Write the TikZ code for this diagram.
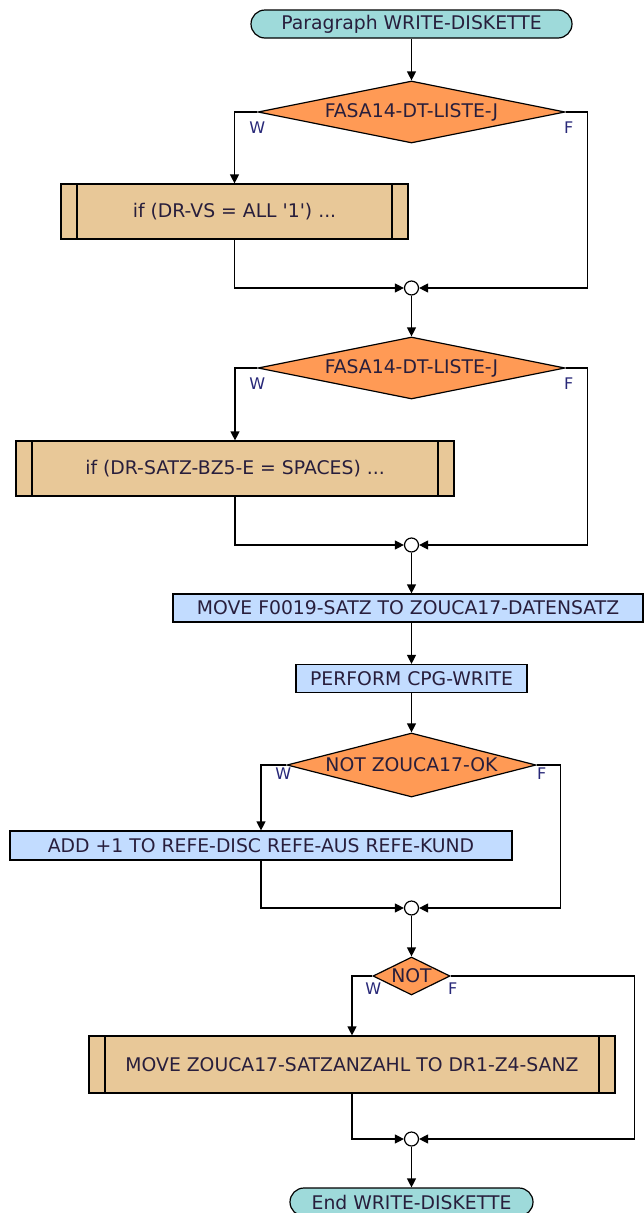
\documentclass[tikz,border=0pt]{standalone}
\usepackage{fontspec}
\setmainfont{DejaVu Sans}
\usetikzlibrary{shapes.geometric,arrows.meta}
\definecolor{termfill}{RGB}{158,218,218}
\definecolor{testfill}{RGB}{255,154,85}
\definecolor{subfill}{RGB}{232,200,152}
\definecolor{actfill}{RGB}{194,220,255}
\definecolor{textc}{RGB}{40,30,60}
\definecolor{labc}{RGB}{40,40,120}

\begin{document}
\begin{tikzpicture}[x=1pt,y=-1pt,font=\fontsize{18.8}{22}\selectfont,text=textc,line width=1.2pt]
		\tikzstyle{term}=[draw,fill=termfill,rounded corners=14pt,minimum height=28pt,inner sep=0pt]
		\tikzstyle{test}=[diamond,draw,fill=testfill,inner sep=0pt]
		\tikzstyle{sub}=[draw,fill=subfill,minimum height=55pt,inner sep=0pt,
			path picture={\draw ([xshift=16pt]path picture bounding box.north west) -- ([xshift=16pt]path picture bounding box.south west);
				\draw ([xshift=-16pt]path picture bounding box.north east) -- ([xshift=-16pt]path picture bounding box.south east);}]
		\tikzstyle{act}=[draw,fill=actfill,minimum height=28pt,inner sep=0pt]
		\tikzstyle{merge}=[circle,draw,fill=white,minimum size=14pt,inner sep=0pt]
		\tikzstyle{arr}=[-{Triangle[length=9pt,width=9pt]}]
		\tikzstyle{lab}=[text=labc,font=\fontsize{16}{18}\selectfont,inner sep=0pt]
		\useasboundingbox (0,0) rectangle (643,1213);
		\node[term,minimum width=321pt] (start) at (411.5,24) {Paragraph WRITE-DISKETTE};
		\node[test,minimum width=307pt,minimum height=62pt,shape aspect=5] (t1) at (411.5,112) {FASA14-DT-LISTE-J};
		\node[sub,minimum width=347pt] (s1) at (234.5,211.5) {if (DR-VS = ALL \textquotesingle1\textquotesingle) ...};
		\node[merge] (j1) at (411.5,288) {};
		\node[test,minimum width=307pt,minimum height=62pt,shape aspect=5] (t2) at (411.5,368) {FASA14-DT-LISTE-J};
		\node[sub,minimum width=438pt] (s2) at (235,468.5) {if (DR-SATZ-BZ5-E = SPACES) ...};
		\node[merge] (j2) at (411.5,545) {};
		\node[act,minimum width=470pt] (a1) at (408,608) {MOVE F0019-SATZ TO ZOUCA17-DATENSATZ};
		\node[act,minimum width=231pt] (a2) at (411.5,678.5) {PERFORM CPG-WRITE};
		\node[test,minimum width=249pt,minimum height=64pt,shape aspect=4] (t3) at (411.5,765) {NOT ZOUCA17-OK};
		\node[act,minimum width=502pt,minimum height=29pt] (a3) at (261,845.5) {ADD +1 TO REFE-DISC REFE-AUS REFE-KUND};
		\node[merge] (j3) at (411.5,908) {};
		\node[test,minimum width=77pt,minimum height=38pt,shape aspect=2] (t4) at (411.5,976) {NOT};
		\node[sub,minimum width=526pt,minimum height=57pt] (s3) at (352,1064.5) {MOVE ZOUCA17-SATZANZAHL TO DR1-Z4-SANZ};
		\node[merge] (j4) at (411.5,1139) {};
		\node[term,minimum width=243pt] (stop) at (411.5,1202) {End WRITE-DISKETTE};
		% branch labels
		\node[lab,anchor=north] (w1) at ([yshift=-9pt]t1.west) {W};
		\node[lab,anchor=north] (f1) at ([xshift=3pt,yshift=-9pt]t1.east) {F};
		\node[lab,anchor=north] (w2) at ([yshift=-9pt]t2.west) {W};
		\node[lab,anchor=north] (f2) at ([xshift=3pt,yshift=-9pt]t2.east) {F};
		\node[lab,anchor=north] (w3) at ([xshift=-3pt,yshift=-2pt]t3.west) {W};
		\node[lab,anchor=north] (f3) at ([xshift=5pt,yshift=-2pt]t3.east) {F};
		\node[lab,anchor=north] (w4) at ([xshift=1pt,yshift=-6pt]t4.west) {W};
		\node[lab,anchor=north] (f4) at ([xshift=2pt,yshift=-6pt]t4.east) {F};
		% connectors
		\draw[arr] (start) -- (t1);
		\draw[arr] (t1.west) -| (s1.north);
		\draw[arr] (t1.east) -- ++(22,0) |- (j1.east);
		\draw[arr] (s1.south) |- (j1.west);
		\draw[arr] (j1) -- (t2);
		\draw[arr] (t2.west) -| (s2.north);
		\draw[arr] (t2.east) -- ++(22,0) |- (j2.east);
		\draw[arr] (s2.south) |- (j2.west);
		\draw[arr] (j2) -- (j2 |- a1.north);
		\draw[arr] (a2 |- a1.south) -- (a2);
		\draw[arr] (a2) -- (t3);
		\draw[arr] (t3.west) -| (a3.north);
		\draw[arr] (t3.east) -- ++(24,0) |- (j3.east);
		\draw[arr] (a3.south) |- (j3.west);
		\draw[arr] (j3) -- (t4);
		\draw[arr] (t4.west) -| (s3.north);
		\draw[arr] (t4.east) -- ++(184,0) |- (j4.east);
		\draw[arr] (s3.south) |- (j4.west);
		\draw[arr] (j4) -- (stop);
\end{tikzpicture}
\end{document}
